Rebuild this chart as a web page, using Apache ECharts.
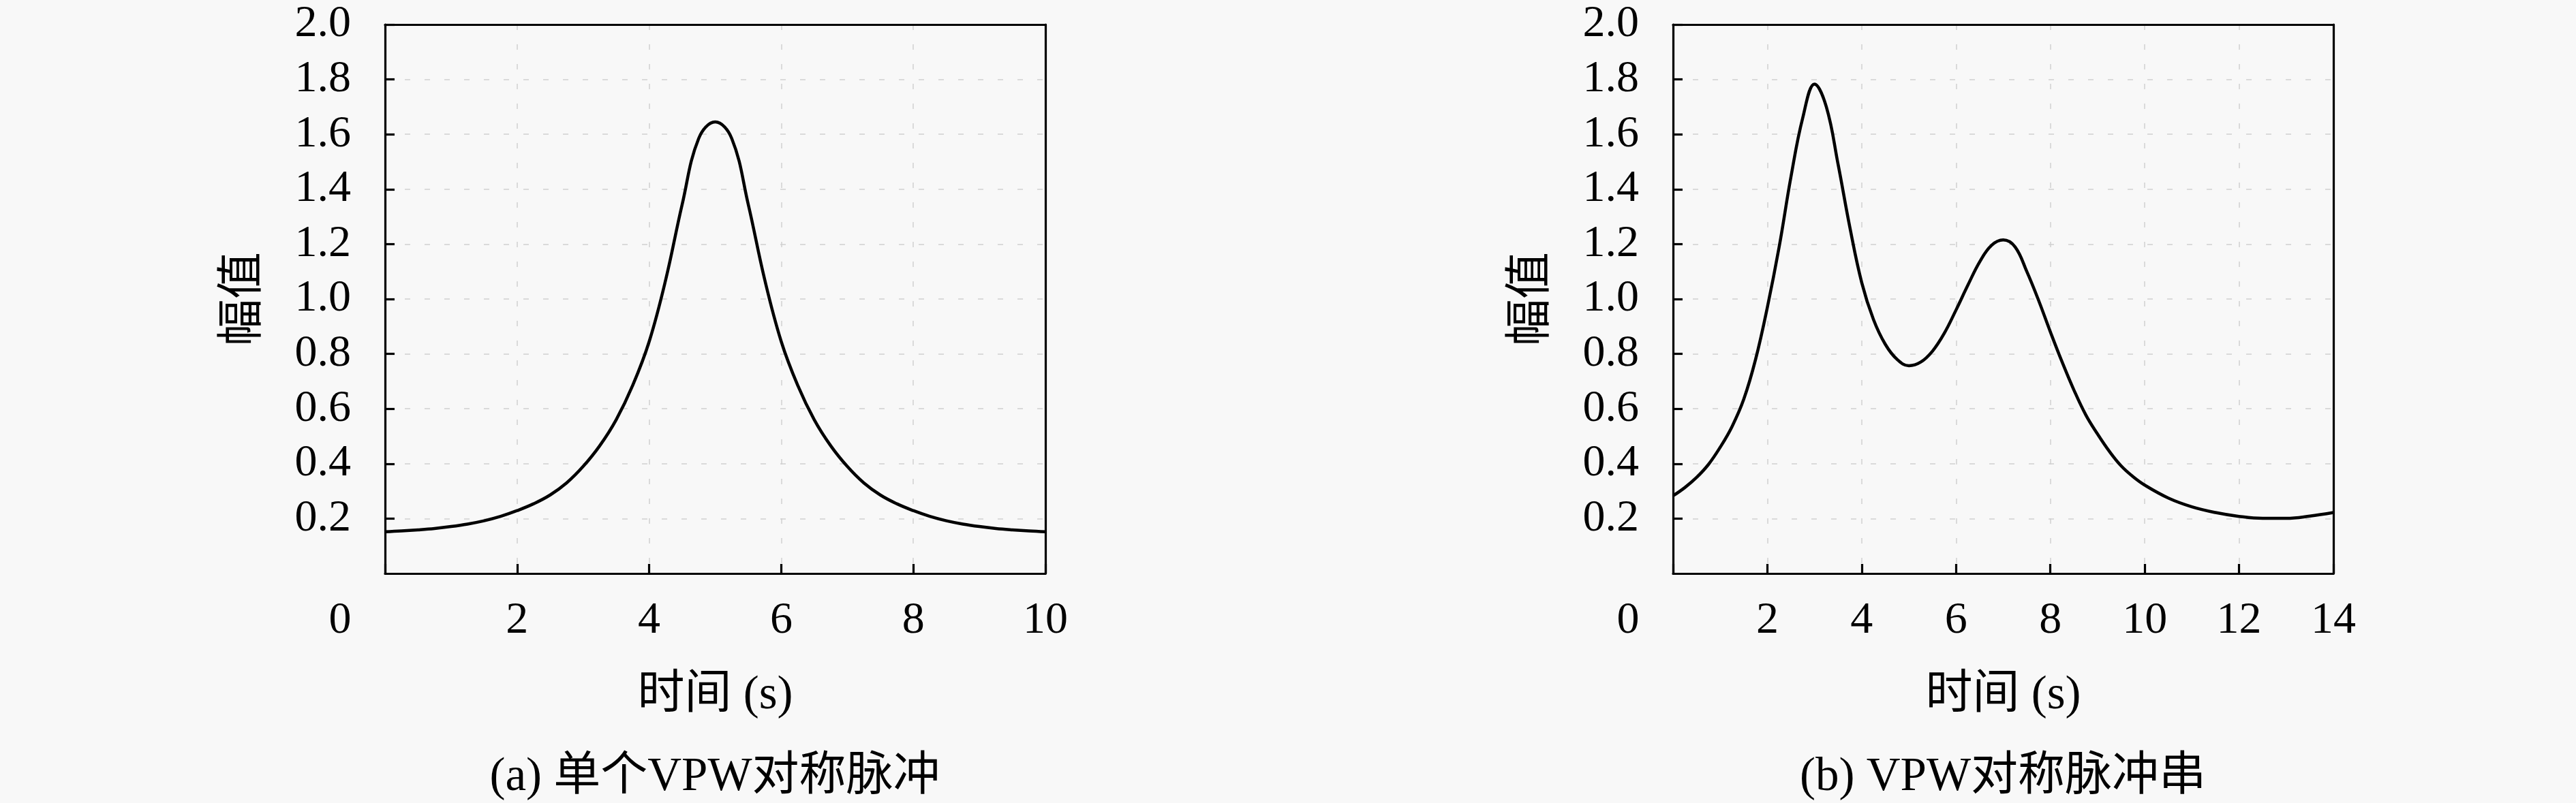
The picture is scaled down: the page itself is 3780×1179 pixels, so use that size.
<!DOCTYPE html>
<html>
<head>
<meta charset="utf-8">
<script src="https://cdn.jsdelivr.net/npm/echarts@6/dist/echarts.min.js"></script>
<style>html,body{margin:0;padding:0;background:#f8f8f8;}#c{width:3780px;height:1179px;}</style>
</head>
<body>
<div id="c"></div>
<script>
// (a) single VPW symmetric pulse
var timeA = [0, 0.25, 0.5, 0.75, 1, 1.25, 1.5, 1.75, 2, 2.25, 2.5, 2.75, 3, 3.25, 3.5, 3.75, 4, 4.25, 4.5, 4.75, 5,
             5.25, 5.5, 5.75, 6, 6.25, 6.5, 6.75, 7, 7.25, 7.5, 7.75, 8, 8.25, 8.5, 8.75, 9, 9.25, 9.5, 9.75, 10];
var ampA  = [0.152, 0.155, 0.159, 0.164, 0.171, 0.18, 0.192, 0.208, 0.229, 0.254, 0.286, 0.33, 0.39, 0.465, 0.56, 0.685, 0.845, 1.07, 1.345, 1.585, 1.645,
             1.585, 1.345, 1.07, 0.845, 0.685, 0.56, 0.465, 0.39, 0.33, 0.286, 0.254, 0.229, 0.208, 0.192, 0.18, 0.171, 0.164, 0.159, 0.155, 0.152];
// (b) VPW symmetric pulse train
var timeB = [0, 0.25, 0.5, 0.75, 1, 1.25, 1.5, 1.75, 2, 2.25, 2.5, 2.75, 3, 3.25, 3.5, 3.75, 4, 4.25, 4.5, 4.75, 5,
             5.25, 5.5, 5.75, 6, 6.25, 6.5, 6.75, 7, 7.25, 7.5, 7.75, 8, 8.25, 8.5, 8.75, 9, 9.25, 9.5, 9.75, 10,
             10.5, 11, 11.5, 12, 12.5, 13, 13.5, 14];
var ampB  = [0.283, 0.313, 0.35, 0.397, 0.46, 0.535, 0.635, 0.78, 0.97, 1.19, 1.445, 1.66, 1.783, 1.70, 1.49, 1.26, 1.06, 0.925, 0.835, 0.78, 0.757,
             0.77, 0.81, 0.875, 0.96, 1.05, 1.135, 1.195, 1.215, 1.19, 1.10, 0.995, 0.88, 0.77, 0.668, 0.578, 0.508, 0.445, 0.392, 0.353, 0.322,
             0.275, 0.243, 0.222, 0.208, 0.201, 0.201, 0.209, 0.222];

var xMaxA = 10, xMaxB = 14, xStep = 2;
var yMin = 0, yMax = 2.0, yStep = 0.2;
var yName = '幅值';
var xName = '时间 (s)';
var captionA = '(a) 单个VPW对称脉冲';
var captionB = '(b) VPW对称脉冲串';

var FONT = "'Liberation Serif', 'Noto Sans CJK SC', serif";
var TICK_FS = 66, NAME_FS = 69;

function pairs(xs, ys) { return xs.map(function (x, i) { return [x, ys[i]]; }); }

var grids = [
  { left: 565, top: 36, width: 969, height: 806 },
  { left: 2455, top: 36, width: 969, height: 806 }
];

var dash = { color: '#cfcfcf', width: 1.5, type: [8, 21] };
var blackLine = { color: '#000', width: 3.2 };

function makeX(idx, max) {
  return {
    type: 'value', gridIndex: idx, min: 0, max: max, interval: xStep,
    name: xName, nameLocation: 'middle', nameGap: 145,
    nameTextStyle: { fontFamily: FONT, fontSize: NAME_FS, color: '#000', lineHeight: 69 },
    axisLine: { show: true, onZero: false, lineStyle: blackLine },
    axisTick: { show: true, inside: true, length: 14, lineStyle: blackLine },
    axisLabel: {
      show: true, margin: 37, color: '#000', fontFamily: FONT, fontSize: TICK_FS, lineHeight: 66,
      formatter: function (v) { return v === 0 ? '{z|0}' : String(v); },
      rich: { z: { fontFamily: FONT, fontSize: TICK_FS, color: '#000', lineHeight: 66, padding: [0, 132, 0, 0] } }
    },
    splitLine: { show: true, lineStyle: dash }
  };
}
function makeXTop(idx, max) {
  return {
    type: 'value', gridIndex: idx, min: 0, max: max, interval: xStep, position: 'top',
    axisLine: { show: true, onZero: false, lineStyle: blackLine },
    axisTick: { show: false }, axisLabel: { show: false }, splitLine: { show: false }
  };
}
function makeY(idx) {
  return {
    type: 'value', gridIndex: idx, min: yMin, max: yMax, interval: yStep,
    name: yName, nameLocation: 'middle', nameGap: 172, nameRotate: 90,
    nameTextStyle: { fontFamily: FONT, fontSize: NAME_FS, color: '#000', lineHeight: 69 },
    axisLine: { show: true, onZero: false, lineStyle: blackLine },
    axisTick: { show: true, inside: true, length: 14, lineStyle: blackLine },
    axisLabel: {
      show: true, margin: 50, color: '#000', fontFamily: FONT, fontSize: TICK_FS,
      showMinLabel: false,
      formatter: function (v) { return v.toFixed(1); }
    },
    splitLine: { show: true, lineStyle: dash }
  };
}
function makeYRight(idx) {
  return {
    type: 'value', gridIndex: idx, min: yMin, max: yMax, interval: yStep, position: 'right',
    axisLine: { show: true, onZero: false, lineStyle: blackLine },
    axisTick: { show: false }, axisLabel: { show: false }, splitLine: { show: false }
  };
}

var chart = echarts.init(document.getElementById('c'), null, { renderer: 'canvas' });
chart.setOption({
  backgroundColor: '#f8f8f8',
  animation: false,
  title: [
    { text: captionA, left: 1049, top: 1107, textAlign: 'center', padding: 0,
      textStyle: { fontFamily: FONT, fontSize: NAME_FS, fontWeight: 'normal', color: '#000', lineHeight: 69 } },
    { text: captionB, left: 2939, top: 1107, textAlign: 'center', padding: 0,
      textStyle: { fontFamily: FONT, fontSize: NAME_FS, fontWeight: 'normal', color: '#000', lineHeight: 69 } }
  ],
  grid: grids,
  xAxis: [makeX(0, xMaxA), makeX(1, xMaxB), makeXTop(0, xMaxA), makeXTop(1, xMaxB)],
  yAxis: [makeY(0), makeY(1), makeYRight(0), makeYRight(1)],
  series: [
    { type: 'line', xAxisIndex: 0, yAxisIndex: 0, data: pairs(timeA, ampA), showSymbol: false,
      smooth: 0.4, lineStyle: { color: '#000', width: 4.5 } },
    { type: 'line', xAxisIndex: 1, yAxisIndex: 1, data: pairs(timeB, ampB), showSymbol: false,
      smooth: 0.4, lineStyle: { color: '#000', width: 4.5 } }
  ]
});
</script>
</body>
</html>
